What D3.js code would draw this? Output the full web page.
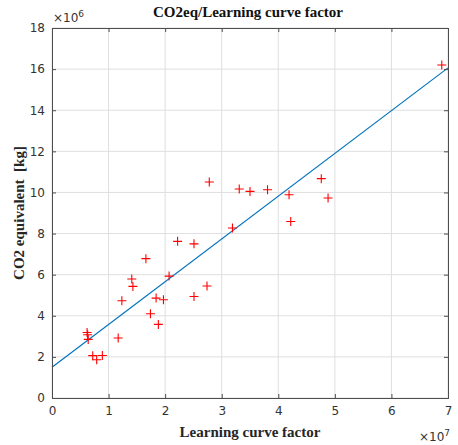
<!DOCTYPE html>
<html>
<head>
<meta charset="utf-8">
<script src="https://cdn.jsdelivr.net/npm/d3@7"></script>
<style>
  html, body { margin: 0; padding: 0; background: #fff; }
  svg { display: block; }
</style>
</head>
<body>
<div id="chart"></div>
<script>
// Learning curve factor (×10^7) and CO2 equivalent (×10^6 kg) per sample
const learningFactor = [
  2.78, 3.31, 3.19, 2.22, 2.51, 1.66, 2.07, 1.41, 1.43, 2.74,
  1.235, 1.84, 1.97, 2.51, 1.74, 1.88, 0.62, 0.63, 0.64, 1.17,
  0.72, 0.79, 0.89, 3.50, 3.81, 4.19, 4.22, 4.76, 4.88, 6.89
];
const co2Equivalent = [
  10.51, 10.17, 8.27, 7.62, 7.50, 6.78, 5.93, 5.79, 5.43, 5.45,
  4.73, 4.86, 4.78, 4.94, 4.10, 3.58, 3.19, 3.08, 2.85, 2.92,
  2.06, 1.86, 2.07, 10.05, 10.13, 9.89, 8.59, 10.67, 9.73, 16.20
];

// Linear fit: co2 = intercept + slope * factor
const fitIntercept = 1.50;
const fitSlope = 2.08;

const xTicks = [0, 1, 2, 3, 4, 5, 6, 7];
const yTicks = [0, 2, 4, 6, 8, 10, 12, 14, 16, 18];

const W = 458, H = 445;
const margin = { left: 52, right: 10, top: 28, bottom: 47 };

const svg = d3.select("#chart").append("svg")
  .attr("width", W).attr("height", H);

const x = d3.scaleLinear().domain([0, 7]).range([margin.left, W - margin.right]);
const y = d3.scaleLinear().domain([0, 18]).range([H - margin.bottom, margin.top]);

const axisColor = "#4d4d4d";
const sansFont = "'DejaVu Sans', sans-serif";
const serifFont = "'Liberation Serif', 'DejaVu Serif', serif";

// Grid lines
const grid = svg.append("g");
grid.selectAll("line.gx").data(xTicks).join("line")
  .attr("x1", d => x(d)).attr("x2", d => x(d))
  .attr("y1", y(0)).attr("y2", y(18))
  .attr("stroke", "#dfdfdf").attr("stroke-width", 1);
grid.selectAll("line.gy").data(yTicks).join("line")
  .attr("x1", x(0)).attr("x2", x(7))
  .attr("y1", d => y(d)).attr("y2", d => y(d))
  .attr("stroke", "#dfdfdf").attr("stroke-width", 1);

// Fitted line
const fitLine = d3.line().x(d => x(d)).y(d => y(fitIntercept + fitSlope * d));
svg.append("path")
  .datum([0, 7])
  .attr("d", fitLine)
  .attr("fill", "none")
  .attr("stroke", "#0072BD")
  .attr("stroke-width", 1.2);

// Data markers (+)
const pts = learningFactor.map((v, i) => [v, co2Equivalent[i]]);
const r = 4.5;
svg.append("g").selectAll("path").data(pts).join("path")
  .attr("d", d => {
    const cx = x(d[0]), cy = y(d[1]);
    return `M${cx - r},${cy}H${cx + r}M${cx},${cy - r}V${cy + r}`;
  })
  .attr("stroke", "#ff0000")
  .attr("stroke-width", 1.1)
  .attr("fill", "none");

// Axes (inward ticks, boxed)
const tickLen = 4;
const bottomAxis = d3.axisBottom(x).tickValues(xTicks).tickSize(-tickLen).tickPadding(8).tickFormat(d3.format("d"));
const leftAxis = d3.axisLeft(y).tickValues(yTicks).tickSize(-tickLen).tickPadding(7).tickFormat(d3.format("d"));
const topAxis = d3.axisTop(x).tickValues(xTicks).tickSize(-tickLen).tickFormat("");
const rightAxis = d3.axisRight(y).tickValues(yTicks).tickSize(-tickLen).tickFormat("");

function styleAxis(g) {
  g.selectAll("path.domain").attr("stroke", axisColor).attr("stroke-width", 1);
  g.selectAll(".tick line").attr("stroke", axisColor);
  g.selectAll(".tick text").attr("fill", "#333")
    .style("font-family", sansFont).style("font-size", "12px");
}

svg.append("g").attr("transform", `translate(0,${y(0)})`).call(bottomAxis).call(styleAxis);
svg.append("g").attr("transform", `translate(${x(0)},0)`).call(leftAxis).call(styleAxis);
svg.append("g").attr("transform", `translate(0,${y(18)})`).call(topAxis).call(styleAxis);
svg.append("g").attr("transform", `translate(${x(7)},0)`).call(rightAxis).call(styleAxis);

// Exponent labels
const exp6 = svg.append("text")
  .attr("x", x(0) + 1).attr("y", y(18) - 6)
  .attr("fill", "#333").style("font-family", sansFont).style("font-size", "12px");
exp6.append("tspan").text("\u00d710");
exp6.append("tspan").attr("dy", -5).style("font-size", "9px").text("6");

const exp7 = svg.append("text")
  .attr("x", x(7) - 29).attr("y", H - 4)
  .attr("fill", "#333").style("font-family", sansFont).style("font-size", "12px");
exp7.append("tspan").text("\u00d710");
exp7.append("tspan").attr("dy", -5).style("font-size", "9px").text("7");

// Title and axis labels
svg.append("text")
  .attr("x", 248).attr("y", 17)
  .attr("text-anchor", "middle")
  .attr("fill", "#111")
  .style("font-family", serifFont).style("font-size", "15px").style("font-weight", "bold")
  .text("CO2eq/Learning curve factor");

svg.append("text")
  .attr("x", 250).attr("y", 437)
  .attr("text-anchor", "middle")
  .attr("fill", "#262626")
  .style("font-family", serifFont).style("font-size", "15px").style("font-weight", "bold")
  .text("Learning curve factor");

svg.append("text")
  .attr("transform", `translate(24,${(y(0) + y(18)) / 2}) rotate(-90)`)
  .attr("text-anchor", "middle")
  .attr("fill", "#262626")
  .style("white-space", "pre")
  .style("font-family", serifFont).style("font-size", "15px").style("font-weight", "bold")
  .text("CO2 equivalent  [kg]");
</script>
</body>
</html>
